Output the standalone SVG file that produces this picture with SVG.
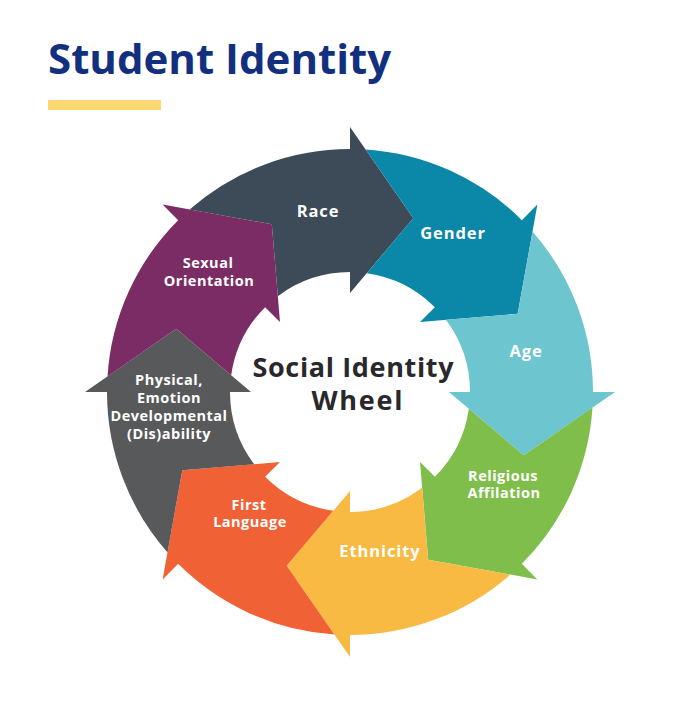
<svg xmlns="http://www.w3.org/2000/svg" xmlns:xlink="http://www.w3.org/1999/xlink" width="691" height="702" viewBox="0 0 691 702">
  <style>
    .title { font-family: "Open Sans", "Liberation Sans", sans-serif; font-weight: 700; font-size: 42px; fill: #13307f; }
    .center { font-family: "Open Sans", "Liberation Sans", sans-serif; font-weight: 700; font-size: 27px; fill: #29282c; text-anchor: middle; }
    .lbl { font-family: "Open Sans", "Liberation Sans", sans-serif; font-weight: 700; font-size: 14.5px; fill: #ffffff; text-anchor: middle; letter-spacing: 0.5px; }
    .big { font-size: 16.5px; letter-spacing: 0.9px; }
  </style>
  <defs>
    <path id="seg" d="M-160.42 -182.51 A243 243 0 0 1 0 -243 L0 -265 L63.27 -173.84 L0 -99 L0 -120 A120 120 0 0 0 -72.17 -95.87 L-78.18 -167.67 Z"/>
  </defs>
  <rect width="691" height="702" fill="#ffffff"/>

  <g id="title">
    <text class="title" x="48" y="74">Student Identity</text>
    <rect x="48" y="100" width="113" height="10" fill="#fdd772"/>
  </g>

  <g id="race">
    <use xlink:href="#seg" href="#seg" transform="translate(350 392) rotate(0)" fill="#3d4a58"/>
    <text class="lbl big" x="318" y="217">Race</text>
  </g>
  <g id="gender">
    <use xlink:href="#seg" href="#seg" transform="translate(350 392) rotate(45)" fill="#0b87a7"/>
    <text class="lbl big" x="453" y="239">Gender</text>
  </g>
  <g id="age">
    <use xlink:href="#seg" href="#seg" transform="translate(350 392) rotate(90)" fill="#6cc5cf"/>
    <text class="lbl big" x="526" y="357">Age</text>
  </g>
  <g id="religious-affilation">
    <use xlink:href="#seg" href="#seg" transform="translate(350 392) rotate(135)" fill="#7fbe4a"/>
    <text class="lbl" x="503" y="481">Religious</text>
    <text class="lbl" x="504" y="498">Affilation</text>
  </g>
  <g id="ethnicity">
    <use xlink:href="#seg" href="#seg" transform="translate(350 392) rotate(180)" fill="#f8ba42"/>
    <text class="lbl big" x="380" y="557">Ethnicity</text>
  </g>
  <g id="first-language">
    <use xlink:href="#seg" href="#seg" transform="translate(350 392) rotate(225)" fill="#f06235"/>
    <text class="lbl" x="249" y="510">First</text>
    <text class="lbl" x="250" y="527">Language</text>
  </g>
  <g id="disability">
    <use xlink:href="#seg" href="#seg" transform="translate(350 392) rotate(270)" fill="#58595b"/>
    <text class="lbl" x="169" y="385">Physical,</text>
    <text class="lbl" x="169" y="403">Emotion</text>
    <text class="lbl" x="169" y="421">Developmental</text>
    <text class="lbl" x="169" y="439">(Dis)ability</text>
  </g>
  <g id="sexual-orientation">
    <use xlink:href="#seg" href="#seg" transform="translate(350 392) rotate(315)" fill="#7b2c64"/>
    <text class="lbl" x="208" y="268">Sexual</text>
    <text class="lbl" x="209" y="286">Orientation</text>
  </g>

  <g id="wheel-center">
    <text class="center" x="353" y="377" textLength="201" lengthAdjust="spacing">Social Identity</text>
    <text class="center" x="357" y="410" textLength="91" lengthAdjust="spacing">Wheel</text>
  </g>
</svg>
